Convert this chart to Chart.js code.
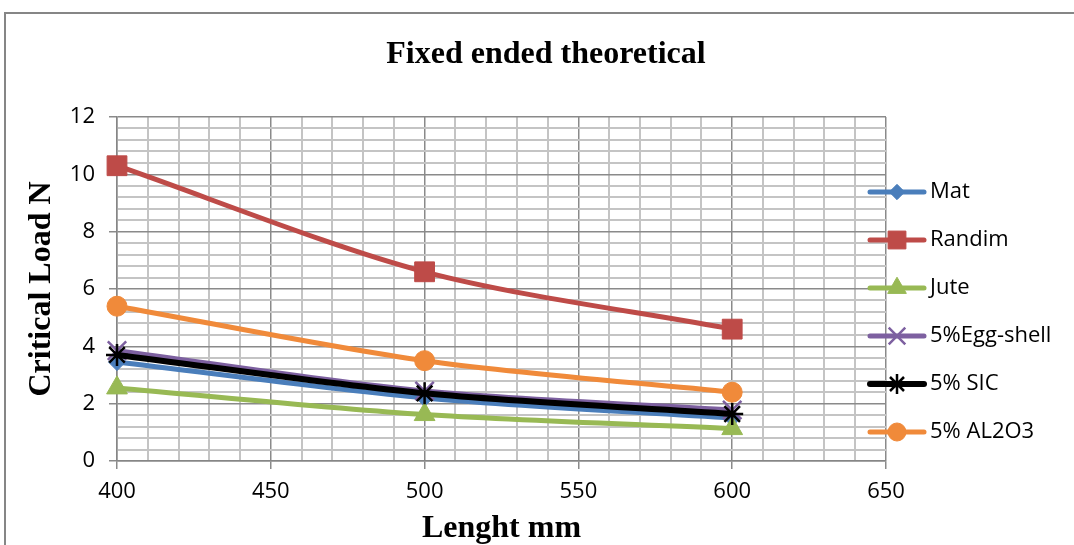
<!DOCTYPE html>
<html>
<head>
<meta charset="utf-8">
<script src="https://cdn.jsdelivr.net/npm/chart.js@4/dist/chart.umd.min.js"></script>
<style>
  html, body { margin: 0; padding: 0; background: #fff; }
  #wrap { width: 1074px; height: 545px; }
</style>
</head>
<body>
<div id="wrap"><canvas id="lineChart" width="1074" height="545"></canvas></div>
<script>
const lengths = [400, 500, 600];
const mat = [3.45, 2.2, 1.5];
const randim = [10.3, 6.6, 4.6];
const jute = [2.55, 1.62, 1.13];
const eggShell = [3.85, 2.44, 1.78];
const sic = [3.7, 2.36, 1.64];
const al2o3 = [5.4, 3.5, 2.4];
const seriesNames = ['Mat', 'Randim', 'Jute', '5%Egg-shell', '5% SIC', '5% AL2O3'];
const yTicks = [0, 2, 4, 6, 8, 10, 12];
const xTicks = [400, 450, 500, 550, 600, 650];
const chartTitle = 'Fixed ended theoretical';

const colors = ['#4a7ebb', '#be4b48', '#98b954', '#7d60a0', '#000000', '#f08a3a'];
const styles = ['rectRot', 'rect', 'triangle', 'crossRot', 'star', 'circle'];
const radii = [8.5, 14, 12, 13, 11, 10];
const allValues = [mat, randim, jute, eggShell, sic, al2o3];

const datasets = allValues.map((vals, i) => ({
  label: seriesNames[i],
  data: vals.map((v, j) => ({ x: lengths[j], y: v })),
  borderColor: colors[i],
  backgroundColor: colors[i],
  borderWidth: i == 4 ? 6 : 5,
  pointStyle: styles[i],
  pointRadius: radii[i],
  pointHoverRadius: radii[i],
  pointBackgroundColor: colors[i],
  pointBorderColor: colors[i],
  pointBorderWidth: (styles[i] == 'crossRot' || styles[i] == 'star') ? 2.5 : 1,
  tension: 0.3,
  clip: false,
  order: 6 - i
}));

const isOn = (v, list) => list.some(t => Math.abs(t - v) < 1e-6);

// grey frame round the chart + title centred on the whole frame
const framePlugin = {
  id: 'frame',
  beforeDraw(chart) {
    const ctx = chart.ctx;
    ctx.save();
    ctx.fillStyle = '#fff';
    ctx.fillRect(0, 0, chart.width, chart.height);
    ctx.strokeStyle = '#868686';
    ctx.lineWidth = 2;
    ctx.strokeRect(5, 13, 1200, 700);
    ctx.fillStyle = '#000';
    ctx.font = 'bold 32px "Liberation Serif"';
    ctx.textAlign = 'center';
    ctx.textBaseline = 'middle';
    ctx.fillText(chartTitle, 546, 55);
    ctx.restore();
  }
};

// legend with line + marker, drawn on the right
const legendPlugin = {
  id: 'sideLegend',
  afterDraw(chart) {
    const ctx = chart.ctx;
    const x0 = 870, x1 = 924, mx = 897, tx = 930;
    const top = 192, gap = 48;
    ctx.save();
    seriesNames.forEach((name, i) => {
      const y = top + i * gap;
      ctx.strokeStyle = colors[i];
      ctx.lineWidth = i == 4 ? 6 : 5;
      ctx.lineCap = 'round';
      ctx.beginPath();
      ctx.moveTo(x0, y);
      ctx.lineTo(x1, y);
      ctx.stroke();
      ctx.fillStyle = colors[i];
      ctx.lineWidth = datasets[i].pointBorderWidth;
      ctx.lineCap = 'butt';
      Chart.helpers.drawPoint(ctx, {
        pointStyle: styles[i], radius: radii[i] * 0.9, rotation: 0,
        borderWidth: datasets[i].pointBorderWidth
      }, mx, y);
      ctx.fillStyle = '#000';
      ctx.font = '22px "Open Sans"';
      ctx.textBaseline = 'middle';
      ctx.fillText(name, tx, y);
    });
    ctx.restore();
  }
};

new Chart(document.getElementById('lineChart'), {
  type: 'line',
  data: { datasets: datasets },
  plugins: [framePlugin, legendPlugin],
  options: {
    responsive: false,
    animation: false,
    layout: { padding: { left: 23, right: 188, top: 117, bottom: 0 } },
    plugins: {
      legend: { display: false },
      tooltip: { enabled: false },
      title: { display: false }
    },
    scales: {
      x: {
        type: 'linear',
        min: 400,
        max: 650,
        afterFit(scale) { scale.height = 84; },
        border: { color: '#868686', width: 1.5 },
        grid: {
          color: c => (c.tick && isOn(c.tick.value, xTicks)) ? '#8a8a8a' : '#c4c4c4',
          lineWidth: c => (c.tick && isOn(c.tick.value, xTicks)) ? 1.5 : 2,
          tickColor: c => (c.tick && isOn(c.tick.value, xTicks)) ? '#8a8a8a' : 'rgba(0,0,0,0)',
          tickLength: 8
        },
        ticks: {
          stepSize: 10,
          autoSkip: false,
          maxRotation: 0,
          padding: 10,
          color: '#000',
          font: { family: '"Open Sans"', size: 22 },
          callback: v => isOn(v, xTicks) ? String(v) : ''
        },
        title: {
          display: true,
          text: 'Lenght mm',
          color: '#000',
          font: { family: '"Liberation Serif"', size: 32, weight: 'bold', lineHeight: 1 },
          padding: { top: 0, bottom: 0 }
        }
      },
      y: {
        min: 0,
        max: 12,
        afterFit(scale) { scale.width = 94; },
        border: { color: '#868686', width: 1.5 },
        grid: {
          color: c => (c.tick && isOn(c.tick.value, yTicks)) ? '#8a8a8a' : '#c4c4c4',
          lineWidth: c => (c.tick && isOn(c.tick.value, yTicks)) ? 1.5 : 2,
          tickColor: c => (c.tick && isOn(c.tick.value, yTicks)) ? '#8a8a8a' : 'rgba(0,0,0,0)',
          tickLength: 8
        },
        ticks: {
          stepSize: 0.4,
          autoSkip: false,
          padding: 14,
          color: '#000',
          font: { family: '"Open Sans"', size: 22 },
          callback: v => isOn(v, yTicks) ? String(Math.round(v)) : ''
        },
        title: {
          display: true,
          text: 'Critical Load N',
          color: '#000',
          font: { family: '"Liberation Serif"', size: 32, weight: 'bold', lineHeight: 1 },
          padding: { top: 3, bottom: 0 }
        }
      }
    }
  }
});
</script>
</body>
</html>
